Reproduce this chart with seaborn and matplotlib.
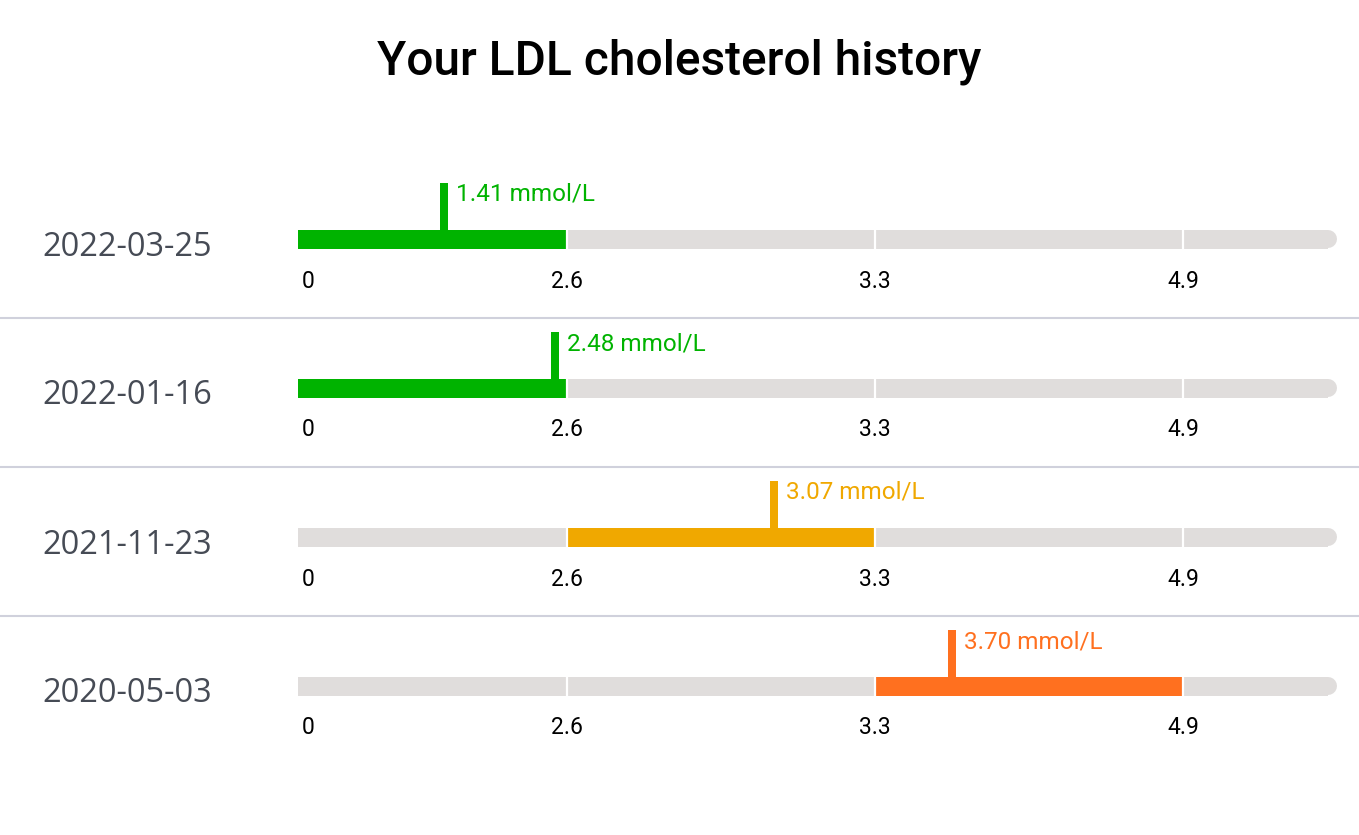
import numpy as np
import seaborn as sns
import matplotlib.pyplot as plt
from matplotlib import transforms

# === Data ===
dates = ["2022-03-25", "2022-01-16", "2021-11-23", "2020-05-03"]
ldl = [1.41, 2.48, 3.07, 3.70]
thresholds = [0, 2.6, 3.3, 4.9]
tick_labels = ["0", "2.6", "3.3", "4.9"]
band_colors = ["#00b300", "#f0a800", "#ff701f", "#e0301e"]
track_end = 5.8

# === Layout (pixels) ===
W, H = 1359, 835
seg_px = [0, 269, 577, 885, 1039]     # where each threshold sits along the track
seg_val = thresholds + [track_end]
row_gap = 149
first_row = 239
bar_h = 19
gray = "#e0dddc"

def fwd(v):
    return np.interp(v, seg_val, seg_px)

def inv(p):
    return np.interp(p, seg_px, seg_val)

sns.set_theme(style="white")
plt.rcParams["font.family"] = ["Roboto", "DejaVu Sans"]

fig = plt.figure(figsize=(W / 100, H / 100), dpi=100)
top_px = first_row - 1.0 * row_gap
ylo, yhi = -1.0, 3.8
ax_h = (yhi - ylo) * row_gap
ax = fig.add_axes([298 / W, 1 - (top_px + ax_h) / H, seg_px[-1] / W, ax_h / H])
ax.set_xscale("function", functions=(fwd, inv))

# gray track (square end stops one radius short, round cap finishes it)
r = bar_h / 2
sns.barplot(x=[inv(seg_px[-1] - r)] * len(dates), y=dates, orient="h",
            color=gray, width=bar_h / row_gap, saturation=1, linewidth=0, ax=ax)
lw_pt = (bar_h - 1) * 72 / 100
for i in range(len(dates)):
    ax.plot([inv(seg_px[-1] - 3 * r), inv(seg_px[-1] - r)], [i, i], color=gray,
            lw=lw_pt, solid_capstyle="round", zorder=2)

bounds = thresholds + [track_end]
fig_y = lambda: transforms.blended_transform_factory(fig.transFigure, ax.transData)
for i, v in enumerate(ldl):
    k = int(np.searchsorted(thresholds, v, side="right") - 1)
    col = band_colors[k]
    ax.barh(i, bounds[k + 1] - bounds[k], left=bounds[k], height=bar_h / row_gap,
            color=col, linewidth=0, zorder=3)
    # white gaps between bands
    ax.vlines(thresholds[1:], i - bar_h / 2 / row_gap, i + bar_h / 2 / row_gap,
              color="white", lw=1.6, zorder=4)
    # marker
    mk_top = i - (bar_h / 2 + 47) / row_gap
    ax.vlines(v, i, mk_top, color=col, lw=8 * 72 / 100, zorder=5)
    ax.text(v, mk_top + 12 / row_gap, f"{v:.2f} mmol/L", color=col, fontsize=17.5,
            va="center", ha="left",
            transform=transforms.offset_copy(ax.transData, fig, x=12, y=0, units="dots"))
    # tick labels under the track
    for t, lab in zip(thresholds, tick_labels):
        if t == 0:
            tr = transforms.offset_copy(ax.transData, fig, x=4, y=0, units="dots")
            ha = "left"
        else:
            tr = ax.transData
            ha = "center"
        ax.text(t, i + 42 / row_gap, lab, fontsize=16.5, color="black",
                ha=ha, va="center", transform=tr)
    # date label on the left
    ax.text(42 / W, i + 8 / row_gap, dates[i], fontsize=23.5, color="#464b55",
            ha="left", va="center", family=["Open Sans", "DejaVu Sans"],
            transform=fig_y())
    # separator lines
    if i < len(dates) - 1:
        ax.plot([0, 1], [i + 0.53, i + 0.53], color="#d0d1dc", lw=1.5, clip_on=False,
                transform=fig_y())

ax.set_xlim(0, track_end)
ax.set_ylim(yhi, ylo)
ax.set_xticks([])
ax.set_yticks([])
ax.set_xlabel("")
ax.set_ylabel("")
sns.despine(ax=ax, left=True, bottom=True)
ax.patch.set_alpha(0)

fig.text(0.5, 1 - 62 / H, "Your LDL cholesterol history", ha="center", va="center",
         fontsize=34.5, fontweight="medium", color="black")

fig.savefig("out.png", dpi=100)
